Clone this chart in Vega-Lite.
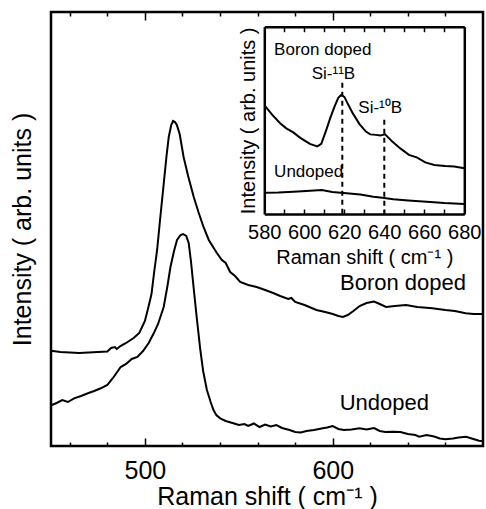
{
  "$schema": "https://vega.github.io/schema/vega-lite/v6.json",
  "width": 432,
  "height": 434,
  "autosize": "none",
  "padding": {"left": 51, "top": 12, "right": 3, "bottom": 63},
  "config": {
    "font": "Liberation Sans",
    "view": {"stroke": "black", "strokeWidth": 2.5},
    "axis": {
      "grid": false,
      "labelFont": "Liberation Sans",
      "titleFont": "Liberation Sans",
      "titleFontWeight": "normal",
      "labelColor": "black",
      "titleColor": "black",
      "tickColor": "black",
      "domainColor": "black",
      "tickWidth": 1.5,
      "domainWidth": 2.5
    },
    "text": {"font": "Liberation Sans", "color": "black"}
  },
  "datasets": {
    "main": [
      {"series": "Boron doped", "shift": 450, "intensity": 95.3},
      {"series": "Boron doped", "shift": 455, "intensity": 94},
      {"series": "Boron doped", "shift": 460, "intensity": 93.5},
      {"series": "Boron doped", "shift": 465, "intensity": 93},
      {"series": "Boron doped", "shift": 470, "intensity": 93.5},
      {"series": "Boron doped", "shift": 475, "intensity": 94},
      {"series": "Boron doped", "shift": 480, "intensity": 94.5},
      {"series": "Boron doped", "shift": 482, "intensity": 98},
      {"series": "Boron doped", "shift": 484, "intensity": 99},
      {"series": "Boron doped", "shift": 485, "intensity": 97},
      {"series": "Boron doped", "shift": 487, "intensity": 100},
      {"series": "Boron doped", "shift": 490, "intensity": 103},
      {"series": "Boron doped", "shift": 494, "intensity": 108},
      {"series": "Boron doped", "shift": 497, "intensity": 113},
      {"series": "Boron doped", "shift": 500, "intensity": 125},
      {"series": "Boron doped", "shift": 502, "intensity": 140},
      {"series": "Boron doped", "shift": 503.5, "intensity": 152},
      {"series": "Boron doped", "shift": 505, "intensity": 175},
      {"series": "Boron doped", "shift": 506.5, "intensity": 196},
      {"series": "Boron doped", "shift": 508, "intensity": 225},
      {"series": "Boron doped", "shift": 510, "intensity": 262},
      {"series": "Boron doped", "shift": 511.5, "intensity": 290},
      {"series": "Boron doped", "shift": 512.7, "intensity": 309},
      {"series": "Boron doped", "shift": 514, "intensity": 321},
      {"series": "Boron doped", "shift": 515, "intensity": 325},
      {"series": "Boron doped", "shift": 516, "intensity": 324},
      {"series": "Boron doped", "shift": 517, "intensity": 321},
      {"series": "Boron doped", "shift": 518.5, "intensity": 312},
      {"series": "Boron doped", "shift": 520.6, "intensity": 289},
      {"series": "Boron doped", "shift": 523, "intensity": 270},
      {"series": "Boron doped", "shift": 526, "intensity": 249},
      {"series": "Boron doped", "shift": 528.5, "intensity": 234},
      {"series": "Boron doped", "shift": 531.2, "intensity": 219},
      {"series": "Boron doped", "shift": 534, "intensity": 206},
      {"series": "Boron doped", "shift": 538.3, "intensity": 193},
      {"series": "Boron doped", "shift": 541, "intensity": 186},
      {"series": "Boron doped", "shift": 543, "intensity": 183},
      {"series": "Boron doped", "shift": 545.4, "intensity": 174},
      {"series": "Boron doped", "shift": 548, "intensity": 170},
      {"series": "Boron doped", "shift": 550.7, "intensity": 164},
      {"series": "Boron doped", "shift": 555, "intensity": 161},
      {"series": "Boron doped", "shift": 559.5, "intensity": 159},
      {"series": "Boron doped", "shift": 564, "intensity": 156},
      {"series": "Boron doped", "shift": 568.3, "intensity": 153},
      {"series": "Boron doped", "shift": 572, "intensity": 150},
      {"series": "Boron doped", "shift": 576.3, "intensity": 147},
      {"series": "Boron doped", "shift": 578, "intensity": 148},
      {"series": "Boron doped", "shift": 580, "intensity": 144},
      {"series": "Boron doped", "shift": 585, "intensity": 141},
      {"series": "Boron doped", "shift": 591.3, "intensity": 136},
      {"series": "Boron doped", "shift": 596, "intensity": 134},
      {"series": "Boron doped", "shift": 600, "intensity": 132},
      {"series": "Boron doped", "shift": 603, "intensity": 130},
      {"series": "Boron doped", "shift": 605.4, "intensity": 129},
      {"series": "Boron doped", "shift": 608, "intensity": 131},
      {"series": "Boron doped", "shift": 611, "intensity": 135},
      {"series": "Boron doped", "shift": 614.3, "intensity": 140},
      {"series": "Boron doped", "shift": 618, "intensity": 143},
      {"series": "Boron doped", "shift": 622, "intensity": 144.5},
      {"series": "Boron doped", "shift": 625, "intensity": 142},
      {"series": "Boron doped", "shift": 628.4, "intensity": 139},
      {"series": "Boron doped", "shift": 633, "intensity": 140},
      {"series": "Boron doped", "shift": 639, "intensity": 141},
      {"series": "Boron doped", "shift": 645, "intensity": 139},
      {"series": "Boron doped", "shift": 653, "intensity": 137.7},
      {"series": "Boron doped", "shift": 660, "intensity": 136},
      {"series": "Boron doped", "shift": 665, "intensity": 135},
      {"series": "Boron doped", "shift": 670.8, "intensity": 132.7},
      {"series": "Boron doped", "shift": 675, "intensity": 132},
      {"series": "Boron doped", "shift": 680, "intensity": 132},
      {"series": "Undoped", "shift": 450.5, "intensity": 41},
      {"series": "Undoped", "shift": 453, "intensity": 43},
      {"series": "Undoped", "shift": 456, "intensity": 46},
      {"series": "Undoped", "shift": 459, "intensity": 44},
      {"series": "Undoped", "shift": 462.3, "intensity": 47.7},
      {"series": "Undoped", "shift": 466, "intensity": 50},
      {"series": "Undoped", "shift": 470, "intensity": 53},
      {"series": "Undoped", "shift": 473, "intensity": 55},
      {"series": "Undoped", "shift": 476.5, "intensity": 57.7},
      {"series": "Undoped", "shift": 480, "intensity": 61},
      {"series": "Undoped", "shift": 483, "intensity": 68},
      {"series": "Undoped", "shift": 487.1, "intensity": 79},
      {"series": "Undoped", "shift": 490, "intensity": 82},
      {"series": "Undoped", "shift": 493, "intensity": 87},
      {"series": "Undoped", "shift": 496, "intensity": 89},
      {"series": "Undoped", "shift": 499, "intensity": 95},
      {"series": "Undoped", "shift": 502, "intensity": 103},
      {"series": "Undoped", "shift": 504.7, "intensity": 112.7},
      {"series": "Undoped", "shift": 507, "intensity": 122},
      {"series": "Undoped", "shift": 510, "intensity": 139},
      {"series": "Undoped", "shift": 512, "intensity": 160},
      {"series": "Undoped", "shift": 513.6, "intensity": 179},
      {"series": "Undoped", "shift": 515.5, "intensity": 195},
      {"series": "Undoped", "shift": 517.1, "intensity": 206},
      {"series": "Undoped", "shift": 519, "intensity": 211},
      {"series": "Undoped", "shift": 520.3, "intensity": 212},
      {"series": "Undoped", "shift": 522, "intensity": 210},
      {"series": "Undoped", "shift": 523.3, "intensity": 203},
      {"series": "Undoped", "shift": 524.5, "intensity": 185},
      {"series": "Undoped", "shift": 525.9, "intensity": 159},
      {"series": "Undoped", "shift": 527.5, "intensity": 130},
      {"series": "Undoped", "shift": 529.5, "intensity": 96},
      {"series": "Undoped", "shift": 531, "intensity": 75},
      {"series": "Undoped", "shift": 533, "intensity": 56},
      {"series": "Undoped", "shift": 535, "intensity": 44},
      {"series": "Undoped", "shift": 536.5, "intensity": 36},
      {"series": "Undoped", "shift": 538, "intensity": 31},
      {"series": "Undoped", "shift": 540.1, "intensity": 27.7},
      {"series": "Undoped", "shift": 543, "intensity": 25},
      {"series": "Undoped", "shift": 547.1, "intensity": 22.7},
      {"series": "Undoped", "shift": 550, "intensity": 21},
      {"series": "Undoped", "shift": 553, "intensity": 22},
      {"series": "Undoped", "shift": 555, "intensity": 20},
      {"series": "Undoped", "shift": 558, "intensity": 22.5},
      {"series": "Undoped", "shift": 561, "intensity": 19},
      {"series": "Undoped", "shift": 564, "intensity": 21.5},
      {"series": "Undoped", "shift": 567, "intensity": 19.5},
      {"series": "Undoped", "shift": 570, "intensity": 21},
      {"series": "Undoped", "shift": 573, "intensity": 18},
      {"series": "Undoped", "shift": 577, "intensity": 16},
      {"series": "Undoped", "shift": 580, "intensity": 14},
      {"series": "Undoped", "shift": 583, "intensity": 13.5},
      {"series": "Undoped", "shift": 586, "intensity": 15},
      {"series": "Undoped", "shift": 590, "intensity": 16},
      {"series": "Undoped", "shift": 594, "intensity": 17.5},
      {"series": "Undoped", "shift": 597, "intensity": 18.5},
      {"series": "Undoped", "shift": 600, "intensity": 20},
      {"series": "Undoped", "shift": 603, "intensity": 17},
      {"series": "Undoped", "shift": 606, "intensity": 16},
      {"series": "Undoped", "shift": 610, "intensity": 16.5},
      {"series": "Undoped", "shift": 614.3, "intensity": 17.7},
      {"series": "Undoped", "shift": 618, "intensity": 16.5},
      {"series": "Undoped", "shift": 622, "intensity": 18},
      {"series": "Undoped", "shift": 625, "intensity": 15},
      {"series": "Undoped", "shift": 628, "intensity": 14},
      {"series": "Undoped", "shift": 632, "intensity": 14.3},
      {"series": "Undoped", "shift": 636, "intensity": 14},
      {"series": "Undoped", "shift": 640, "intensity": 12},
      {"series": "Undoped", "shift": 644, "intensity": 11},
      {"series": "Undoped", "shift": 646, "intensity": 9.3},
      {"series": "Undoped", "shift": 650, "intensity": 11},
      {"series": "Undoped", "shift": 654, "intensity": 9.5},
      {"series": "Undoped", "shift": 657, "intensity": 7.5},
      {"series": "Undoped", "shift": 660, "intensity": 6.7},
      {"series": "Undoped", "shift": 664, "intensity": 7.5},
      {"series": "Undoped", "shift": 667, "intensity": 8.5},
      {"series": "Undoped", "shift": 671, "intensity": 9.3},
      {"series": "Undoped", "shift": 674, "intensity": 7.5},
      {"series": "Undoped", "shift": 677.9, "intensity": 5.3},
      {"series": "Undoped", "shift": 680, "intensity": 5}
    ],
    "mainLabels": [
      {"label": "Boron doped", "shift": 637.4, "intensity": 163.3},
      {"label": "Undoped", "shift": 627.5, "intensity": 43.3}
    ],
    "inset": [
      {"series": "Boron doped", "shift": 580.3, "intensity": 108},
      {"series": "Boron doped", "shift": 584, "intensity": 99},
      {"series": "Boron doped", "shift": 587.9, "intensity": 90.7},
      {"series": "Boron doped", "shift": 591, "intensity": 85.5},
      {"series": "Boron doped", "shift": 594.5, "intensity": 81.5},
      {"series": "Boron doped", "shift": 598, "intensity": 76},
      {"series": "Boron doped", "shift": 602.8, "intensity": 70},
      {"series": "Boron doped", "shift": 606.5, "intensity": 67.5},
      {"series": "Boron doped", "shift": 608.5, "intensity": 70},
      {"series": "Boron doped", "shift": 611, "intensity": 84},
      {"series": "Boron doped", "shift": 613, "intensity": 96},
      {"series": "Boron doped", "shift": 615.1, "intensity": 107.3},
      {"series": "Boron doped", "shift": 617, "intensity": 116},
      {"series": "Boron doped", "shift": 618.5, "intensity": 119},
      {"series": "Boron doped", "shift": 620.1, "intensity": 116.7},
      {"series": "Boron doped", "shift": 622, "intensity": 109},
      {"series": "Boron doped", "shift": 624.2, "intensity": 100.7},
      {"series": "Boron doped", "shift": 627.5, "intensity": 90},
      {"series": "Boron doped", "shift": 630.8, "intensity": 82.3},
      {"series": "Boron doped", "shift": 633, "intensity": 79.5},
      {"series": "Boron doped", "shift": 635.8, "intensity": 79},
      {"series": "Boron doped", "shift": 638, "intensity": 78.5},
      {"series": "Boron doped", "shift": 640.4, "intensity": 79.5},
      {"series": "Boron doped", "shift": 644, "intensity": 72.3},
      {"series": "Boron doped", "shift": 648, "intensity": 65.5},
      {"series": "Boron doped", "shift": 652.3, "intensity": 59},
      {"series": "Boron doped", "shift": 656.2, "intensity": 56.5},
      {"series": "Boron doped", "shift": 660.5, "intensity": 51.5},
      {"series": "Boron doped", "shift": 665, "intensity": 49},
      {"series": "Boron doped", "shift": 670.4, "intensity": 48},
      {"series": "Boron doped", "shift": 675, "intensity": 47.5},
      {"series": "Boron doped", "shift": 680, "intensity": 45.7},
      {"series": "Undoped", "shift": 580.3, "intensity": 21.3},
      {"series": "Undoped", "shift": 587, "intensity": 21.5},
      {"series": "Undoped", "shift": 594.5, "intensity": 22.3},
      {"series": "Undoped", "shift": 601, "intensity": 23},
      {"series": "Undoped", "shift": 608.7, "intensity": 24},
      {"series": "Undoped", "shift": 614, "intensity": 22},
      {"series": "Undoped", "shift": 621.2, "intensity": 20.7},
      {"series": "Undoped", "shift": 628, "intensity": 19.5},
      {"series": "Undoped", "shift": 634.5, "intensity": 17.3},
      {"series": "Undoped", "shift": 639, "intensity": 16.3},
      {"series": "Undoped", "shift": 644.5, "intensity": 14.7},
      {"series": "Undoped", "shift": 652, "intensity": 13.5},
      {"series": "Undoped", "shift": 661.2, "intensity": 12.3},
      {"series": "Undoped", "shift": 670, "intensity": 11},
      {"series": "Undoped", "shift": 680, "intensity": 10}
    ],
    "insetMarkers": [
      {"shift": 619, "top": 131},
      {"shift": 640, "top": 94}
    ],
    "insetLabels": [
      {"label": "Boron doped", "shift": 584.9, "intensity": 164},
      {"label": "Si-¹¹B", "shift": 603.7, "intensity": 140},
      {"label": "Si-¹⁰B", "shift": 627, "intensity": 105.7},
      {"label": "Undoped", "shift": 584.9, "intensity": 42.3}
    ]
  },
  "layer": [
    {
      "data": {"name": "main"},
      "resolve": {"axis": {"x": "independent"}},
      "layer": [
        {
          "transform": [{"filter": "datum.series === 'Boron doped'"}],
          "mark": {"type": "line", "color": "black", "strokeWidth": 2},
          "encoding": {
            "x": {
              "field": "shift", "type": "quantitative",
              "scale": {"domain": [450, 680], "nice": false, "zero": false},
              "axis": {
                "orient": "bottom", "offset": -8, "title": "Raman shift ( cm⁻¹ )", "titleFontSize": 25, "titlePadding": 1,
                "domain": false, "values": [500, 600], "tickSize": 8, "labelFontSize": 25, "labelPadding": 12, "labelOverlap": false
              }
            },
            "y": {
              "field": "intensity", "type": "quantitative",
              "scale": {"domain": [0, 434], "nice": false, "zero": false},
              "axis": {"orient": "left", "title": "Intensity ( arb. units )", "titleFontSize": 25, "titlePadding": 16, "domain": false, "ticks": false, "labels": false}
            }
          }
        },
        {
          "transform": [{"filter": "datum.series === 'Undoped'"}],
          "mark": {"type": "line", "color": "black", "strokeWidth": 2},
          "encoding": {
            "x": {
              "field": "shift", "type": "quantitative",
              "axis": {"orient": "bottom", "offset": -4, "title": null, "domain": false, "labels": false, "values": [460, 480, 520, 540, 560, 580, 620, 640, 660], "tickSize": 4}
            },
            "y": {"field": "intensity", "type": "quantitative"}
          }
        },
        {
          "data": {"name": "mainLabels"},
          "transform": [{"filter": "datum.label === 'Boron doped'"}],
          "mark": {"type": "text", "fontSize": 22, "align": "center", "baseline": "middle"},
          "encoding": {
            "x": {
              "field": "shift", "type": "quantitative",
              "axis": {"orient": "top", "offset": -8, "title": null, "domain": false, "labels": false, "values": [500, 600], "tickSize": 8}
            },
            "y": {"field": "intensity", "type": "quantitative"},
            "text": {"field": "label"}
          }
        },
        {
          "data": {"name": "mainLabels"},
          "transform": [{"filter": "datum.label === 'Undoped'"}],
          "mark": {"type": "text", "fontSize": 22, "align": "center", "baseline": "middle"},
          "encoding": {
            "x": {
              "field": "shift", "type": "quantitative",
              "axis": {"orient": "top", "offset": -4, "title": null, "domain": false, "labels": false, "values": [460, 480, 520, 540, 560, 580, 620, 640, 660], "tickSize": 4}
            },
            "y": {"field": "intensity", "type": "quantitative"},
            "text": {"field": "label"}
          }
        }
      ]
    },
    {
      "data": {"name": "inset"},
      "resolve": {"axis": {"x": "independent", "y": "independent"}},
      "layer": [
        {
          "transform": [{"filter": "datum.series === 'Boron doped'"}],
          "mark": {"type": "line", "color": "black", "strokeWidth": 2},
          "encoding": {
            "x": {
              "field": "shift", "type": "quantitative",
              "scale": {"domain": [580, 680], "range": [213.3, 413.3], "nice": false, "zero": false},
              "axis": {"orient": "bottom", "offset": -232, "title": "Raman shift ( cm⁻¹ )", "titleFontSize": 20, "titlePadding": 5, "values": [580, 600, 620, 640, 660, 680], "ticks": false, "labelFontSize": 20, "labelPadding": 8, "labelOverlap": false, "labelFlush": false}
            },
            "y": {
              "field": "intensity", "type": "quantitative",
              "scale": {"domain": [0, 187], "range": [202, 14.7], "nice": false, "zero": false},
              "axis": {"orient": "left", "offset": -213.3, "title": "Intensity ( arb. units )", "titleFontSize": 20, "titlePadding": 6, "ticks": false, "labels": false}
            }
          }
        },
        {
          "transform": [{"filter": "datum.series === 'Undoped'"}],
          "mark": {"type": "line", "color": "black", "strokeWidth": 2},
          "encoding": {
            "x": {
              "field": "shift", "type": "quantitative",
              "axis": {"orient": "bottom", "offset": -237, "title": null, "domain": false, "labels": false, "values": [590, 600, 610, 620, 630, 640, 650, 660, 670], "tickSize": 5}
            },
            "y": {"field": "intensity", "type": "quantitative", "axis": null}
          }
        },
        {
          "data": {"name": "insetMarkers"},
          "mark": {"type": "rule", "color": "black", "strokeWidth": 2, "strokeDash": [5, 4]},
          "encoding": {
            "x": {"field": "shift", "type": "quantitative", "axis": {"orient": "top", "offset": -14.7, "title": null, "labels": false, "ticks": false}},
            "y": {"field": "top", "type": "quantitative", "axis": {"orient": "right", "offset": -18.7, "title": null, "labels": false, "ticks": false}},
            "y2": {"datum": 0}
          }
        },
        {
          "data": {"name": "insetLabels"},
          "mark": {"type": "text", "fontSize": 17, "align": "left", "baseline": "middle"},
          "encoding": {
            "x": {
              "field": "shift", "type": "quantitative",
              "axis": {"orient": "top", "offset": -19.7, "title": null, "domain": false, "labels": false, "values": [590, 600, 610, 620, 630, 640, 650, 660, 670], "tickSize": 5}
            },
            "y": {"field": "intensity", "type": "quantitative", "axis": null},
            "text": {"field": "label"}
          }
        }
      ]
    }
  ],
  "resolve": {"scale": {"x": "independent", "y": "independent"}, "axis": {"x": "independent", "y": "independent"}}
}
